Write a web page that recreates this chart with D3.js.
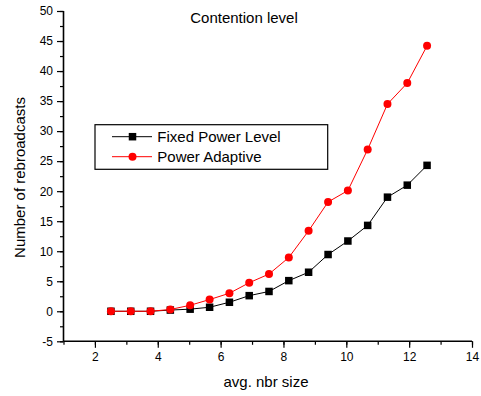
<!DOCTYPE html>
<html>
<head>
<meta charset="utf-8">
<script src="https://cdn.jsdelivr.net/npm/d3@7"></script>
<style>
  html, body { margin: 0; padding: 0; background: #fff; }
  svg { display: block; font-family: "Liberation Sans", Arial, sans-serif; }
</style>
</head>
<body>
<svg id="chart" width="481" height="396"></svg>
<script>
// Average neighbourhood size (x) for each run
const nbrSize = [2.51, 3.14, 3.77, 4.40, 5.03, 5.65, 6.28, 6.91, 7.54, 8.17, 8.80, 9.42, 10.05, 10.68, 11.31, 11.94, 12.57];
// Number of rebroadcasts per scheme
const fixedPower = [0, 0, 0, 0.2, 0.35, 0.67, 1.5, 2.6, 3.3, 5.1, 6.5, 9.45, 11.7, 14.3, 19.0, 21.0, 24.3];
const powerAdaptive = [0, 0, 0, 0.3, 1.0, 1.95, 3.0, 4.75, 6.2, 8.95, 13.4, 18.2, 20.1, 26.95, 34.5, 38.0, 44.2];
// Axis ticks
const xTicks = [2, 4, 6, 8, 10, 12, 14];
const yTicks = [-5, 0, 5, 10, 15, 20, 25, 30, 35, 40, 45, 50];
const seriesNames = ["Fixed Power Level", "Power Adaptive"];

const svg = d3.select("#chart");
const plotLeft = 63.5, plotRight = 472, plotTop = 11, plotBottom = 341.3;

const x = d3.scaleLinear().domain([1, 14]).range([plotLeft, plotRight]);
const y = d3.scaleLinear().domain([-5, 50]).range([plotBottom, plotTop]);

const axisColor = "#000";
const fontFam = "'Liberation Sans', Arial, sans-serif";
const plainNum = d => String(d);

// X axis: majors every 2, minors at odd values
const xAxisG = svg.append("g").attr("transform", `translate(0,${plotBottom})`);
xAxisG.append("g").call(d3.axisBottom(x).tickValues(d3.range(1, 15)).tickSize(3.5).tickFormat(""));
xAxisG.append("g").call(d3.axisBottom(x).tickValues(xTicks).tickSize(6.5).tickPadding(5).tickFormat(plainNum));
xAxisG.selectAll("line").attr("stroke", axisColor).attr("stroke-width", 1.2);
xAxisG.selectAll(".domain").remove();
xAxisG.selectAll("text").attr("font-size", 12).attr("fill", "#000").attr("font-family", fontFam);

// Y axis: majors every 5, minors at the midpoints
const yAxisG = svg.append("g").attr("transform", `translate(${plotLeft},0)`);
yAxisG.append("g").call(d3.axisLeft(y).tickValues(d3.range(-5, 50.1, 2.5)).tickSize(3.5).tickFormat(""));
yAxisG.append("g").call(d3.axisLeft(y).tickValues(yTicks).tickSize(6.5).tickPadding(4).tickFormat(plainNum));
yAxisG.selectAll("line").attr("stroke", axisColor).attr("stroke-width", 1.2);
yAxisG.selectAll(".domain").remove();
yAxisG.selectAll("text").attr("font-size", 12).attr("fill", "#000").attr("font-family", fontFam);

// Axis lines
svg.append("line").attr("x1", plotLeft).attr("x2", plotLeft).attr("y1", plotTop).attr("y2", plotBottom)
  .attr("stroke", axisColor).attr("stroke-width", 1.6);
svg.append("line").attr("x1", plotLeft).attr("x2", plotRight).attr("y1", plotBottom).attr("y2", plotBottom)
  .attr("stroke", axisColor).attr("stroke-width", 1.6);

// Axis titles and chart title
svg.append("text").attr("x", 266).attr("y", 386.5).attr("text-anchor", "middle")
  .attr("font-size", 15).text("avg. nbr size");
svg.append("text").attr("transform", "translate(25,177.5) rotate(-90)").attr("text-anchor", "middle")
  .attr("font-size", 15).text("Number of rebroadcasts");
svg.append("text").attr("x", 244).attr("y", 22.5).attr("text-anchor", "middle")
  .attr("font-size", 15).text("Contention level");

// Series
const line = d3.line().x(d => x(d[0])).y(d => y(d[1]));
const fixedPts = nbrSize.map((v, i) => [v, fixedPower[i]]);
const adaptPts = nbrSize.map((v, i) => [v, powerAdaptive[i]]);
const sq = 7.5, rad = 4;

svg.append("path").datum(fixedPts).attr("d", line).attr("fill", "none")
  .attr("stroke", "#000").attr("stroke-width", 1);
svg.append("g").selectAll("rect").data(fixedPts).join("rect")
  .attr("x", d => x(d[0]) - sq / 2).attr("y", d => y(d[1]) - sq / 2)
  .attr("width", sq).attr("height", sq).attr("fill", "#000");

svg.append("path").datum(adaptPts).attr("d", line).attr("fill", "none")
  .attr("stroke", "#ff0000").attr("stroke-width", 1);
svg.append("g").selectAll("circle").data(adaptPts).join("circle")
  .attr("cx", d => x(d[0])).attr("cy", d => y(d[1])).attr("r", rad).attr("fill", "#ff0000");

// Legend
const legend = svg.append("g");
legend.append("rect").attr("x", 95).attr("y", 124.7).attr("width", 232.7).attr("height", 44.6)
  .attr("fill", "#fff").attr("stroke", "#000").attr("stroke-width", 1.2);
const rows = [
  { name: seriesNames[0], color: "#000", shape: "square", cy: 136.7 },
  { name: seriesNames[1], color: "#ff0000", shape: "circle", cy: 156.7 }
];
rows.forEach(r => {
  legend.append("line").attr("x1", 112).attr("x2", 152).attr("y1", r.cy).attr("y2", r.cy)
    .attr("stroke", r.color).attr("stroke-width", 1);
  if (r.shape === "square") {
    legend.append("rect").attr("x", 132.5 - sq / 2).attr("y", r.cy - sq / 2)
      .attr("width", sq).attr("height", sq).attr("fill", r.color);
  } else {
    legend.append("circle").attr("cx", 132.5).attr("cy", r.cy).attr("r", rad).attr("fill", r.color);
  }
  legend.append("text").attr("x", 157.3).attr("y", r.cy + 5.7).attr("font-size", 15).text(r.name);
});
</script>
</body>
</html>
